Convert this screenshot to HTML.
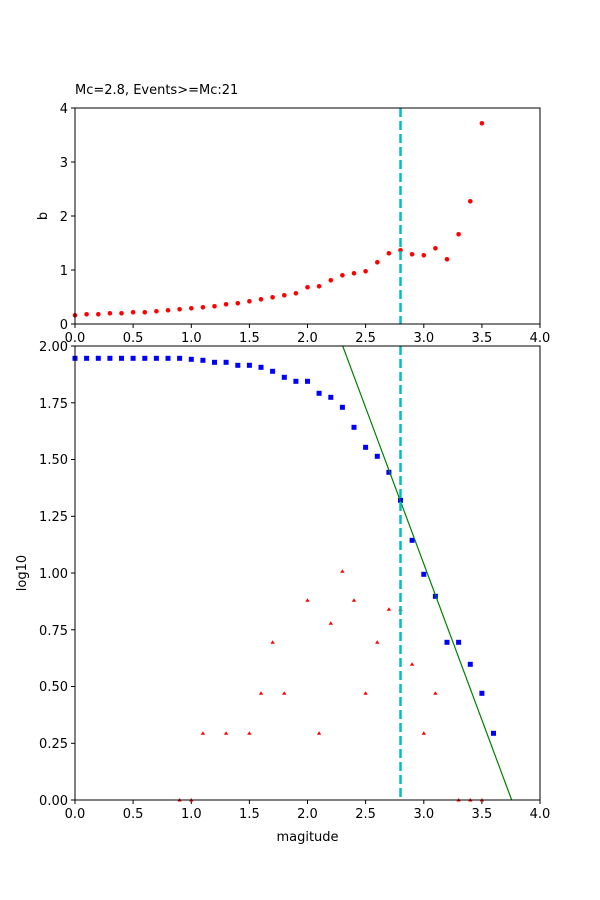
<!DOCTYPE html>
<html><head><meta charset="utf-8"><style>body{margin:0;background:#fff}svg{display:block}text{font-family:"DejaVu Sans","Liberation Sans",sans-serif;font-size:13px;fill:#000}</style></head><body>
<svg width="600" height="900" viewBox="0 0 600 900" xmlns="http://www.w3.org/2000/svg">
<rect width="600" height="900" fill="#fff"/>
<g id="top">
<text x="75" y="94">Mc=2.8, Events&gt;=Mc:21</text>
<g stroke="#000" stroke-width="1">
<line x1="75" y1="324" x2="75" y2="328"/><line x1="133.1" y1="324" x2="133.1" y2="328"/><line x1="191.3" y1="324" x2="191.3" y2="328"/><line x1="249.4" y1="324" x2="249.4" y2="328"/><line x1="307.5" y1="324" x2="307.5" y2="328"/><line x1="365.6" y1="324" x2="365.6" y2="328"/><line x1="423.8" y1="324" x2="423.8" y2="328"/><line x1="481.9" y1="324" x2="481.9" y2="328"/><line x1="540" y1="324" x2="540" y2="328"/>
<line x1="71" y1="324" x2="75" y2="324"/><line x1="71" y1="270" x2="75" y2="270"/><line x1="71" y1="216" x2="75" y2="216"/><line x1="71" y1="162" x2="75" y2="162"/><line x1="71" y1="108" x2="75" y2="108"/>
</g>
<g text-anchor="middle">
<text x="75" y="342">0.0</text><text x="133.1" y="342">0.5</text><text x="191.3" y="342">1.0</text><text x="249.4" y="342">1.5</text><text x="307.5" y="342">2.0</text><text x="365.6" y="342">2.5</text><text x="423.8" y="342">3.0</text><text x="481.9" y="342">3.5</text><text x="540" y="342">4.0</text>
</g>
<g text-anchor="end">
<text x="68" y="329">0</text><text x="68" y="275">1</text><text x="68" y="221">2</text><text x="68" y="167">3</text><text x="68" y="113">4</text>
</g>
<text x="47" y="216" text-anchor="middle" transform="rotate(-90 47 216)">b</text>
<g fill="#f00">
<circle cx="75" cy="315.3" r="2.3"/><circle cx="86.6" cy="314.3" r="2.3"/><circle cx="98.3" cy="314.3" r="2.3"/><circle cx="109.9" cy="313.3" r="2.3"/><circle cx="121.5" cy="313.3" r="2.3"/><circle cx="133.1" cy="312.3" r="2.3"/><circle cx="144.8" cy="312.3" r="2.3"/><circle cx="156.4" cy="311.3" r="2.3"/><circle cx="168" cy="310.3" r="2.3"/><circle cx="179.6" cy="309.3" r="2.3"/><circle cx="191.3" cy="308.3" r="2.3"/><circle cx="202.9" cy="307.3" r="2.3"/><circle cx="214.5" cy="306.3" r="2.3"/><circle cx="226.1" cy="304.3" r="2.3"/><circle cx="237.8" cy="303.3" r="2.3"/><circle cx="249.4" cy="301.3" r="2.3"/><circle cx="261" cy="299.3" r="2.3"/><circle cx="272.6" cy="297.3" r="2.3"/><circle cx="284.3" cy="295.3" r="2.3"/><circle cx="295.9" cy="293.3" r="2.3"/><circle cx="307.5" cy="287.3" r="2.3"/><circle cx="319.1" cy="286.3" r="2.3"/><circle cx="330.8" cy="280.3" r="2.3"/><circle cx="342.4" cy="275.3" r="2.3"/><circle cx="354" cy="273.3" r="2.3"/><circle cx="365.6" cy="271.3" r="2.3"/><circle cx="377.3" cy="262.3" r="2.3"/><circle cx="388.9" cy="253.3" r="2.3"/><circle cx="400.5" cy="250.3" r="2.3"/><circle cx="412.1" cy="254.3" r="2.3"/><circle cx="423.8" cy="255.3" r="2.3"/><circle cx="435.4" cy="248.3" r="2.3"/><circle cx="447" cy="259.3" r="2.3"/><circle cx="458.6" cy="234.3" r="2.3"/><circle cx="470.3" cy="201.3" r="2.3"/><circle cx="481.9" cy="123.3" r="2.3"/>
</g>
<line x1="400.5" y1="108" x2="400.5" y2="324" stroke="#00bfbf" stroke-width="2.5" stroke-dasharray="9,4"/>
<rect x="75" y="108" width="465" height="216" fill="none" stroke="#000" stroke-width="1"/>
</g>
<g id="bottom">
<rect x="75" y="346" width="465" height="454" fill="#fff"/>
<g stroke="#000" stroke-width="1">
<line x1="75" y1="800" x2="75" y2="804"/><line x1="133.1" y1="800" x2="133.1" y2="804"/><line x1="191.3" y1="800" x2="191.3" y2="804"/><line x1="249.4" y1="800" x2="249.4" y2="804"/><line x1="307.5" y1="800" x2="307.5" y2="804"/><line x1="365.6" y1="800" x2="365.6" y2="804"/><line x1="423.8" y1="800" x2="423.8" y2="804"/><line x1="481.9" y1="800" x2="481.9" y2="804"/><line x1="540" y1="800" x2="540" y2="804"/>
<line x1="71" y1="800" x2="75" y2="800"/><line x1="71" y1="743.3" x2="75" y2="743.3"/><line x1="71" y1="686.5" x2="75" y2="686.5"/><line x1="71" y1="629.8" x2="75" y2="629.8"/><line x1="71" y1="573" x2="75" y2="573"/><line x1="71" y1="516.3" x2="75" y2="516.3"/><line x1="71" y1="459.5" x2="75" y2="459.5"/><line x1="71" y1="402.8" x2="75" y2="402.8"/><line x1="71" y1="346" x2="75" y2="346"/>
</g>
<g text-anchor="middle">
<text x="75" y="818">0.0</text><text x="133.1" y="818">0.5</text><text x="191.3" y="818">1.0</text><text x="249.4" y="818">1.5</text><text x="307.5" y="818">2.0</text><text x="365.6" y="818">2.5</text><text x="423.8" y="818">3.0</text><text x="481.9" y="818">3.5</text><text x="540" y="818">4.0</text>
</g>
<g text-anchor="end">
<text x="68" y="805">0.00</text><text x="68" y="748">0.25</text><text x="68" y="691">0.50</text><text x="68" y="635">0.75</text><text x="68" y="578">1.00</text><text x="68" y="521">1.25</text><text x="68" y="464">1.50</text><text x="68" y="408">1.75</text><text x="68" y="351">2.00</text>
</g>
<text x="307.5" y="841" text-anchor="middle">magitude</text>
<text x="26" y="573" text-anchor="middle" transform="rotate(-90 26 573)">log10</text>
<g fill="#00f">
<rect x="72.5" y="355.8" width="5" height="5"/><rect x="84.1" y="355.8" width="5" height="5"/><rect x="95.8" y="355.8" width="5" height="5"/><rect x="107.4" y="355.8" width="5" height="5"/><rect x="119" y="355.8" width="5" height="5"/><rect x="130.6" y="355.8" width="5" height="5"/><rect x="142.3" y="355.8" width="5" height="5"/><rect x="153.9" y="355.8" width="5" height="5"/><rect x="165.5" y="355.8" width="5" height="5"/><rect x="177.1" y="355.8" width="5" height="5"/><rect x="188.8" y="356.8" width="5" height="5"/><rect x="200.4" y="357.8" width="5" height="5"/><rect x="212" y="359.8" width="5" height="5"/><rect x="223.6" y="359.8" width="5" height="5"/><rect x="235.3" y="362.8" width="5" height="5"/><rect x="246.9" y="362.8" width="5" height="5"/><rect x="258.5" y="364.8" width="5" height="5"/><rect x="270.1" y="368.8" width="5" height="5"/><rect x="281.8" y="374.8" width="5" height="5"/><rect x="293.4" y="378.8" width="5" height="5"/><rect x="305" y="378.8" width="5" height="5"/><rect x="316.6" y="390.8" width="5" height="5"/><rect x="328.3" y="394.8" width="5" height="5"/><rect x="339.9" y="404.8" width="5" height="5"/><rect x="351.5" y="424.8" width="5" height="5"/><rect x="363.1" y="444.8" width="5" height="5"/><rect x="374.8" y="453.8" width="5" height="5"/><rect x="386.4" y="469.8" width="5" height="5"/><rect x="398" y="497.8" width="5" height="5"/><rect x="409.6" y="537.8" width="5" height="5"/><rect x="421.3" y="571.8" width="5" height="5"/><rect x="432.9" y="593.8" width="5" height="5"/><rect x="444.5" y="639.8" width="5" height="5"/><rect x="456.1" y="639.8" width="5" height="5"/><rect x="467.8" y="661.8" width="5" height="5"/><rect x="479.4" y="690.8" width="5" height="5"/><rect x="491" y="730.8" width="5" height="5"/>
</g>
<g fill="#f00">
<path d="M179.6,798 l2.2,3.5 h-4.4z"/><path d="M191.3,798 l2.2,3.5 h-4.4z"/><path d="M202.9,731.3 l2.2,3.5 h-4.4z"/><path d="M226.1,731.3 l2.2,3.5 h-4.4z"/><path d="M249.4,731.3 l2.2,3.5 h-4.4z"/><path d="M261,691.3 l2.2,3.5 h-4.4z"/><path d="M272.6,640.3 l2.2,3.5 h-4.4z"/><path d="M284.3,691.3 l2.2,3.5 h-4.4z"/><path d="M307.5,598.3 l2.2,3.5 h-4.4z"/><path d="M319.1,731.3 l2.2,3.5 h-4.4z"/><path d="M330.8,621.3 l2.2,3.5 h-4.4z"/><path d="M342.4,569.3 l2.2,3.5 h-4.4z"/><path d="M354,598.3 l2.2,3.5 h-4.4z"/><path d="M365.6,691.3 l2.2,3.5 h-4.4z"/><path d="M377.3,640.3 l2.2,3.5 h-4.4z"/><path d="M388.9,607.3 l2.2,3.5 h-4.4z"/><path d="M400.5,607.3 l2.2,3.5 h-4.4z"/><path d="M412.1,662.3 l2.2,3.5 h-4.4z"/><path d="M423.8,731.3 l2.2,3.5 h-4.4z"/><path d="M435.4,691.3 l2.2,3.5 h-4.4z"/><path d="M458.6,798 l2.2,3.5 h-4.4z"/><path d="M470.3,798 l2.2,3.5 h-4.4z"/><path d="M481.9,798 l2.2,3.5 h-4.4z"/>
</g>
<line x1="342.7" y1="346" x2="511.7" y2="800" stroke="#008000" stroke-width="1.2"/>
<line x1="400.5" y1="346" x2="400.5" y2="800" stroke="#00bfbf" stroke-width="2.5" stroke-dasharray="9,4"/>
<rect x="75" y="346" width="465" height="454" fill="none" stroke="#000" stroke-width="1"/>
</g>
</svg>
</body></html>
